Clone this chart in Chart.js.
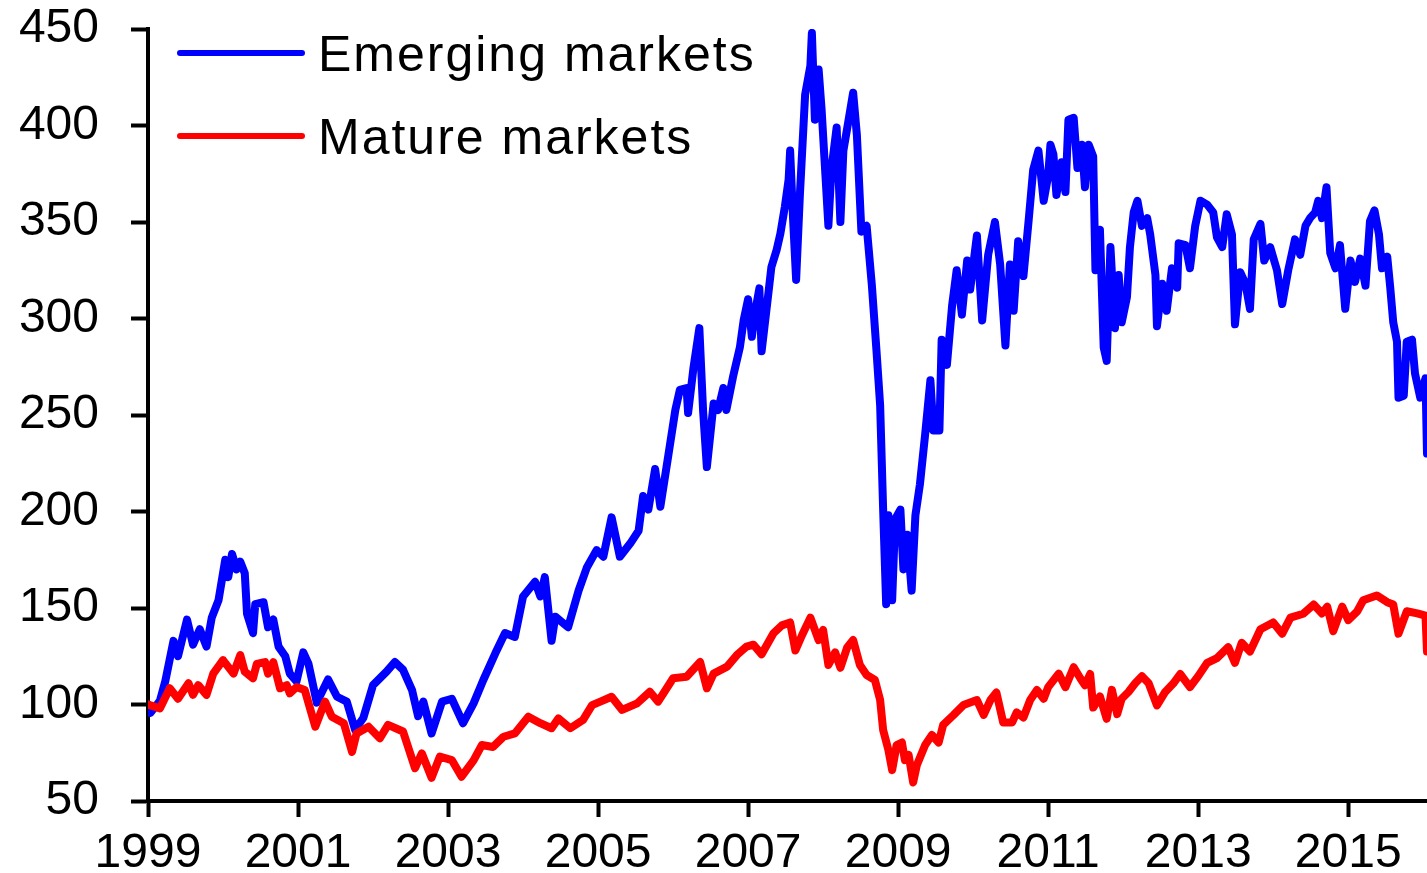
<!DOCTYPE html>
<html>
<head>
<meta charset="utf-8">
<script src="https://cdn.jsdelivr.net/npm/chart.js@4.4.1/dist/chart.umd.min.js"></script>
<style>
  html, body { margin: 0; padding: 0; background: #ffffff; }
  canvas { display: block; }
</style>
</head>
<body>
<canvas id="marketsChart" width="1427" height="873"></canvas>
<script>
// ==================== DATA ====================

const seriesNames = ['Emerging markets', 'Mature markets'];
const xTickYears = [1999, 2001, 2003, 2005, 2007, 2009, 2011, 2013, 2015];
const yTickValues = [50, 100, 150, 200, 250, 300, 350, 400, 450];

// Emerging markets index (1999 = 100)
const emergingDates = [
  1999.00, 1999.03, 1999.16, 1999.23, 1999.34, 1999.40, 1999.52, 1999.60, 1999.69, 1999.78,
  1999.85, 1999.94, 2000.03, 2000.07, 2000.12, 2000.18, 2000.23, 2000.29, 2000.32, 2000.40,
  2000.43, 2000.54, 2000.60, 2000.67, 2000.74, 2000.83, 2000.89, 2000.98, 2001.07, 2001.14,
  2001.25, 2001.40, 2001.52, 2001.65, 2001.76, 2001.87, 2002.00, 2002.18, 2002.29, 2002.40,
  2002.52, 2002.60, 2002.67, 2002.78, 2002.92, 2003.05, 2003.20, 2003.34, 2003.47, 2003.63,
  2003.76, 2003.89, 2004.00, 2004.16, 2004.23, 2004.29, 2004.38, 2004.43, 2004.60, 2004.74,
  2004.85, 2004.98, 2005.07, 2005.18, 2005.29, 2005.43, 2005.54, 2005.60, 2005.67, 2005.76,
  2005.83, 2005.94, 2006.03, 2006.09, 2006.18, 2006.20, 2006.27, 2006.35, 2006.40, 2006.45,
  2006.54, 2006.60, 2006.67, 2006.71, 2006.80, 2006.89, 2006.94, 2007.00, 2007.05, 2007.09,
  2007.15, 2007.18, 2007.27, 2007.31, 2007.38, 2007.43, 2007.49, 2007.54, 2007.56, 2007.60,
  2007.64, 2007.69, 2007.76, 2007.83, 2007.85, 2007.89, 2007.94, 2007.98, 2008.07, 2008.11,
  2008.18, 2008.23, 2008.27, 2008.34, 2008.40, 2008.45, 2008.51, 2008.58, 2008.65, 2008.71,
  2008.76, 2008.80, 2008.84, 2008.87, 2008.92, 2008.96, 2009.03, 2009.07, 2009.12, 2009.18,
  2009.23, 2009.29, 2009.36, 2009.43, 2009.47, 2009.55, 2009.58, 2009.65, 2009.72, 2009.78,
  2009.85, 2009.92, 2009.96, 2010.05, 2010.12, 2010.20, 2010.29, 2010.36, 2010.43, 2010.49,
  2010.54, 2010.60, 2010.67, 2010.74, 2010.80, 2010.87, 2010.94, 2011.00, 2011.03, 2011.07,
  2011.11, 2011.18, 2011.23, 2011.27, 2011.34, 2011.39, 2011.45, 2011.49, 2011.54, 2011.60,
  2011.63, 2011.69, 2011.74, 2011.78, 2011.83, 2011.89, 2011.94, 2011.98, 2012.05, 2012.09,
  2012.14, 2012.19, 2012.25, 2012.32, 2012.36, 2012.43, 2012.45, 2012.52, 2012.58, 2012.65,
  2012.72, 2012.74, 2012.83, 2012.89, 2012.96, 2013.03, 2013.12, 2013.20, 2013.25, 2013.32,
  2013.38, 2013.45, 2013.49, 2013.56, 2013.63, 2013.69, 2013.74, 2013.83, 2013.88, 2013.96,
  2014.05, 2014.12, 2014.20, 2014.29, 2014.36, 2014.43, 2014.49, 2014.56, 2014.60, 2014.65,
  2014.71, 2014.76, 2014.83, 2014.89, 2014.96, 2015.03, 2015.09, 2015.16, 2015.23, 2015.29,
  2015.35, 2015.41, 2015.45, 2015.52, 2015.56, 2015.60, 2015.65, 2015.67, 2015.74, 2015.78,
  2015.85, 2015.89, 2015.96, 2016.03, 2016.05
];
const emergingValues = [
  100, 95.6, 102, 112, 133, 125, 144, 131, 139, 130,
  145, 154, 175, 166, 178, 170, 174, 168, 147, 137,
  152, 153, 140, 144, 130, 125, 116, 112, 127, 121,
  101, 113, 104, 101.5, 87, 93, 110, 117, 122, 118,
  107.5, 94, 101.5, 85, 101.5, 103, 90.3, 100.6, 112.7, 126.5,
  137, 135, 156, 163.6, 156, 166, 133, 145.5, 140, 159,
  171, 180, 176.6, 197, 176.6, 183.5, 190, 208, 201, 222,
  202.5, 230, 252.6, 263, 264, 251, 274, 295, 252, 223,
  256, 252.6, 264, 252.6, 270, 285, 299, 310, 290.5, 302.6,
  315.6, 283, 313, 326.6, 335.5, 344, 358, 372, 387, 351,
  320, 364, 416, 431, 448, 403, 429, 408, 348, 377,
  399, 350, 387, 403, 417, 395, 345, 348, 317, 284,
  255, 201, 152, 198, 154, 196, 201, 170, 188, 159,
  198, 214, 240, 268, 242, 242, 289, 276, 307, 325,
  302, 330, 315, 343, 299, 333, 350, 328, 286, 328,
  304, 340, 322, 351, 377, 387, 361, 374, 390, 385,
  364, 381, 365.5, 403, 404, 378, 390, 368, 390, 384,
  325, 346, 285, 278, 337, 295, 322.5, 298, 311, 337,
  355, 361, 348, 352, 343.5, 322.5, 296, 318, 304, 326,
  316, 339, 338, 326, 348, 361, 359, 355, 342, 337,
  354, 343.5, 297, 324, 318, 305, 341, 349, 330, 337,
  325, 307.5, 325, 341, 333, 348, 352, 355, 361, 352,
  368, 334, 326, 338, 305, 330, 319, 331, 317, 350.5,
  356, 343.5, 326, 332, 316, 298, 288, 259, 260, 288,
  289, 271.5, 259, 269, 230
];

// Mature markets index (1999 = 100)
const matureDates = [
  1999.00, 1999.16, 1999.29, 1999.40, 1999.54, 1999.60, 1999.67, 1999.78, 1999.87, 2000.00,
  2000.14, 2000.23, 2000.29, 2000.40, 2000.45, 2000.56, 2000.60, 2000.67, 2000.76, 2000.85,
  2000.89, 2000.98, 2001.09, 2001.23, 2001.36, 2001.45, 2001.61, 2001.72, 2001.78, 2001.94,
  2002.09, 2002.20, 2002.40, 2002.56, 2002.65, 2002.78, 2002.89, 2003.05, 2003.18, 2003.34,
  2003.45, 2003.60, 2003.74, 2003.89, 2004.07, 2004.23, 2004.38, 2004.47, 2004.63, 2004.80,
  2004.92, 2005.03, 2005.18, 2005.32, 2005.52, 2005.69, 2005.80, 2006.00, 2006.18, 2006.36,
  2006.45, 2006.54, 2006.72, 2006.85, 2006.98, 2007.07, 2007.18, 2007.34, 2007.45, 2007.56,
  2007.63, 2007.72, 2007.83, 2007.94, 2008.00, 2008.07, 2008.16, 2008.23, 2008.32, 2008.40,
  2008.49, 2008.58, 2008.69, 2008.76, 2008.80, 2008.87, 2008.92, 2008.98, 2009.05, 2009.09,
  2009.14, 2009.20, 2009.25, 2009.36, 2009.45, 2009.54, 2009.60, 2009.74, 2009.87, 2009.96,
  2010.05, 2010.14, 2010.23, 2010.31, 2010.40, 2010.52, 2010.58, 2010.67, 2010.76, 2010.85,
  2010.94, 2011.00, 2011.14, 2011.23, 2011.34, 2011.43, 2011.49, 2011.56, 2011.60, 2011.69,
  2011.78, 2011.85, 2011.92, 2011.98, 2012.07, 2012.16, 2012.25, 2012.34, 2012.45, 2012.56,
  2012.67, 2012.76, 2012.89, 2013.00, 2013.12, 2013.25, 2013.40, 2013.49, 2013.58, 2013.69,
  2013.83, 2014.00, 2014.12, 2014.23, 2014.40, 2014.54, 2014.65, 2014.72, 2014.80, 2014.92,
  2015.00, 2015.12, 2015.20, 2015.38, 2015.52, 2015.60, 2015.67, 2015.78, 2015.92, 2016.03,
  2016.05
];
const matureValues = [
  100, 98, 108.4, 103, 111, 105, 110, 105, 116, 123,
  116, 125.6, 117, 113.6, 121, 122, 116, 122, 108.4, 110,
  105.8, 109, 107.5, 88.5, 101.5, 93.7, 90.3, 75.5, 85, 88.5,
  82.5, 89.4, 86, 67, 74.7, 62, 73, 71.2, 62.6, 71,
  79, 78, 83.3, 85, 93.7, 90.3, 87.7, 92.8, 87.7, 92,
  99.7, 101.5, 104, 97.2, 100.6, 106.6, 101.5, 113.6, 114.4, 122,
  108.4, 116, 119.6, 125.6, 130, 131, 126, 137, 141, 142.5,
  128, 136, 145, 133.4, 138.6, 120.5, 127, 119, 129.5, 133.4,
  120.5, 115.3, 112.7, 102.3, 86.8, 76.4, 66, 79, 80.3, 71.2,
  73.8, 59.6, 68.7, 79, 84.2, 80.3, 89.4, 94.6, 99.7, 101,
  102.3, 94.6, 102.3, 106.2, 90.7, 90.7, 95.9, 93.3, 102.3, 107.5,
  103, 109, 116, 109, 119.3, 113.5, 110, 115.8, 98.4, 104.2,
  92.6, 107.6, 95, 103, 106.5, 111, 114.7, 111, 99.5, 106.5,
  111, 115.8, 109, 114.7, 121.6, 124, 129.7, 121.6, 132, 127.4,
  139, 142.5, 136.7, 145, 147, 151.8, 147.2, 150.7, 138, 150.7,
  143.7, 148.3, 154, 156.5, 153, 151.8, 136.7, 148.3, 147.2, 146,
  127.4
];

// ==================== CHART ====================

const toPoints = (dates, values) => dates.map((d, i) => ({ x: d, y: values[i] }));

// Legend drawn inside the plot area, two stacked rows at the top left
const insideLegend = {
  id: 'insideLegend',
  afterDraw(chart) {
    const ctx = chart.ctx;
    const rows = chart.data.datasets;
    ctx.save();
    ctx.font = '50px "Liberation Sans", Arial, sans-serif';
    ctx.letterSpacing = '2px';
    ctx.textBaseline = 'alphabetic';
    ctx.fillStyle = '#000000';
    rows.forEach((ds, i) => {
      const y = 53 + i * 83;
      ctx.strokeStyle = ds.borderColor;
      ctx.lineWidth = 6;
      ctx.lineCap = 'round';
      ctx.beginPath();
      ctx.moveTo(180, y);
      ctx.lineTo(302, y);
      ctx.stroke();
      ctx.fillText(ds.label, 318, y + 18);
    });
    ctx.restore();
  }
};

const ctx = document.getElementById('marketsChart').getContext('2d');

new Chart(ctx, {
  type: 'line',
  data: {
    datasets: [
      {
        label: seriesNames[0],
        data: toPoints(emergingDates, emergingValues),
        borderColor: '#0000ff',
        borderWidth: 8,
        borderJoinStyle: 'round',
        borderCapStyle: 'round',
        pointRadius: 0,
        tension: 0,
        order: 2
      },
      {
        label: seriesNames[1],
        data: toPoints(matureDates, matureValues),
        borderColor: '#ff0000',
        borderWidth: 8,
        borderJoinStyle: 'round',
        borderCapStyle: 'round',
        pointRadius: 0,
        tension: 0,
        order: 1
      }
    ]
  },
  options: {
    responsive: false,
    animation: false,
    layout: { padding: { top: 29, right: 0, bottom: 0, left: 0 } },
    plugins: {
      legend: { display: false },
      tooltip: { enabled: false }
    },
    scales: {
      x: {
        type: 'linear',
        min: 1999,
        max: 2016.05,
        afterBuildTicks: axis => { axis.ticks = xTickYears.map(v => ({ value: v })); },
        afterFit: axis => { axis.height = 72; },
        border: { display: true, color: '#000000', width: 4 },
        grid: { drawOnChartArea: false, drawTicks: true, tickLength: 16, tickWidth: 4, color: '#000000' },
        ticks: {
          color: '#000000',
          padding: 8,
          maxRotation: 0,
          autoSkip: false,
          font: { family: '"Liberation Sans", Arial, sans-serif', size: 48 },
          callback: v => String(v)
        }
      },
      y: {
        min: 50,
        max: 450,
        afterBuildTicks: axis => { axis.ticks = yTickValues.map(v => ({ value: v })); },
        afterFit: axis => {
          axis.width = 148;
          // tick padding is horizontal here; do not let it push the plot down
          axis.paddingTop = 0;
          axis.paddingBottom = 0;
        },
        border: { display: true, color: '#000000', width: 4 },
        grid: { drawOnChartArea: false, drawTicks: true, tickLength: 17, tickWidth: 4, color: '#000000' },
        ticks: {
          color: '#000000',
          padding: 32,
          font: { family: '"Liberation Sans", Arial, sans-serif', size: 48 },
          callback: v => String(v)
        }
      }
    }
  },
  plugins: [insideLegend]
});
</script>
</body>
</html>
